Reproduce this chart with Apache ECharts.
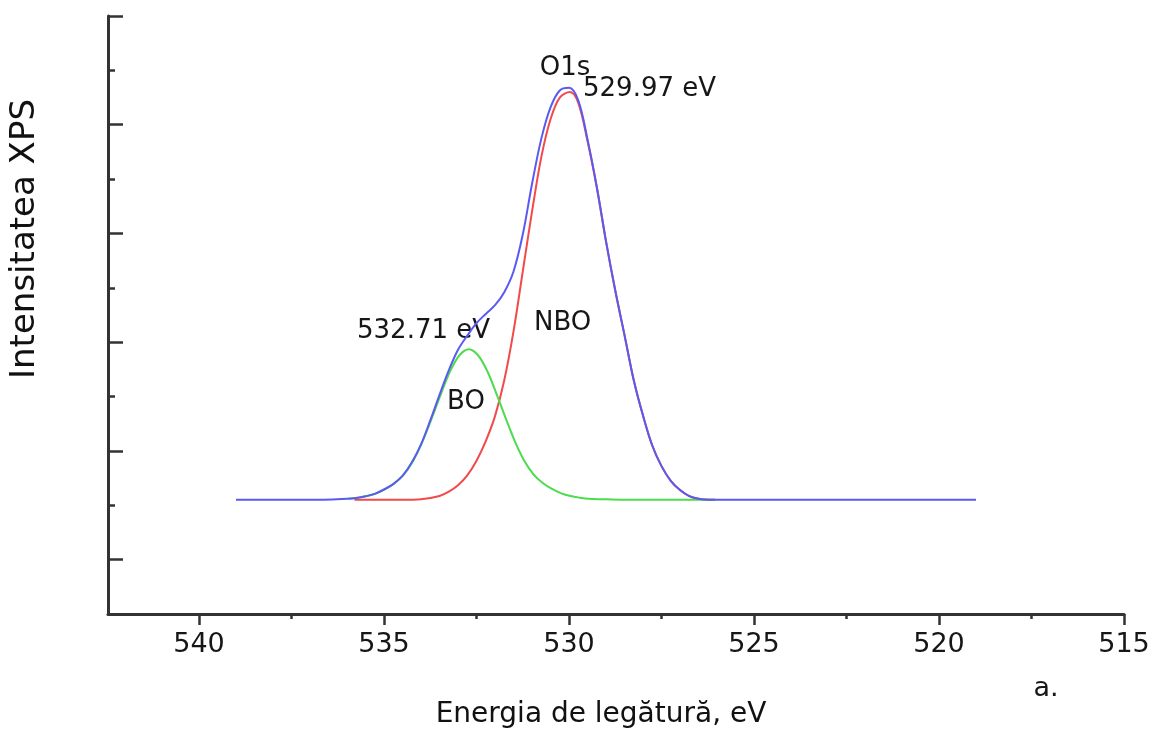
<!DOCTYPE html>
<html>
<head>
<meta charset="utf-8">
<script src="https://cdn.jsdelivr.net/npm/echarts@6/dist/echarts.min.js"></script>
<style>
html,body{margin:0;padding:0;background:#fff;}
#chart{width:1157px;height:734px;}
</style>
</head>
<body>
<div id="chart"></div>
<script>
// ---- data ----
const xTickValues = [515, 520, 525, 530, 535, 540];
const xMinorTicks = [517.5, 522.5, 527.5, 532.5, 537.5];
const yMajorTicks = [1, 3, 5, 7, 9, 11];
const yMinorTicks = [2, 4, 6, 8, 10];

// total envelope (blue)
const blueE = [539.0, 537.0, 536.0, 535.75, 535.5, 535.25, 535.0, 534.75, 534.5, 534.25, 534.0, 533.75, 533.5, 533.25, 533.0, 532.75, 532.5, 532.25, 532.0, 531.75, 531.5, 531.25, 531.0, 530.75, 530.5, 530.25, 530.0, 529.75, 529.5, 529.25, 529.0, 528.75, 528.5, 528.25, 528.0, 527.75, 527.5, 527.25, 527.0, 526.75, 526.5, 526.25, 525.5, 519.0];
const blueI = [2.1, 2.1, 2.12, 2.135, 2.165, 2.21, 2.29, 2.39, 2.54, 2.785, 3.12, 3.56, 4.03, 4.48, 4.86, 5.12, 5.35, 5.52, 5.68, 5.92, 6.3, 6.98, 7.91, 8.74, 9.32, 9.63, 9.68, 9.45, 8.73, 7.86, 6.86, 5.95, 5.13, 4.3, 3.65, 3.1, 2.72, 2.45, 2.28, 2.17, 2.12, 2.1, 2.1, 2.1];

// NBO component (red)
const redE = [535.8, 535.0, 534.5, 534.0, 533.5, 533.25, 533.0, 532.75, 532.5, 532.25, 532.0, 531.75, 531.5, 531.25, 531.0, 530.75, 530.5, 530.25, 529.97, 529.75, 529.5, 529.25, 529.0, 528.75, 528.5, 528.25, 528.0, 527.75, 527.5, 527.25, 527.0, 526.75, 526.5, 526.05];
const redI = [2.1, 2.1, 2.1, 2.11, 2.17, 2.25, 2.37, 2.55, 2.82, 3.18, 3.64, 4.3, 5.2, 6.3, 7.4, 8.4, 9.1, 9.5, 9.6, 9.4, 8.7, 7.85, 6.85, 5.95, 5.13, 4.3, 3.65, 3.1, 2.72, 2.45, 2.28, 2.17, 2.12, 2.1];

// BO component (green)
const greenE = [535.96, 535.71, 535.46, 535.21, 534.96, 534.71, 534.46, 534.21, 533.96, 533.71, 533.46, 533.21, 532.96, 532.71, 532.46, 532.21, 531.96, 531.71, 531.46, 531.21, 530.96, 530.71, 530.46, 530.21, 529.96, 529.71, 529.46, 529.0, 528.0, 527.0, 526.05];
const greenI = [2.12, 2.14, 2.17, 2.22, 2.30, 2.41, 2.57, 2.82, 3.17, 3.60, 4.05, 4.47, 4.76, 4.87, 4.76, 4.47, 4.05, 3.60, 3.17, 2.82, 2.57, 2.41, 2.30, 2.22, 2.17, 2.14, 2.12, 2.11, 2.1, 2.1, 2.1];

const xTitle = 'Energia de legătură, eV';
const yTitle = 'Intensitatea XPS';

// ---- chart ----
const zip = (a, b) => a.map((v, i) => [v, b[i]]);
const FONT = '"DejaVu Sans", "Liberation Sans", Arial, sans-serif';
const AX = '#333';
const TXT = '#161616';

const chart = echarts.init(document.getElementById('chart'), null, {renderer: 'canvas'});

const xCommon = {type: 'value', min: 515, max: 542.46, inverse: true, position: 'bottom', splitLine: {show: false}};
const yCommon = {type: 'value', min: 0, max: 11, position: 'left', splitLine: {show: false}};

const option = {
  backgroundColor: '#fff',
  animation: false,
  grid: {left: 108, right: 33, top: 16, bottom: 120, containLabel: false, outerBoundsMode: 'none'},
  xAxis: [
    Object.assign({}, xCommon, {
      axisLine: {show: true, onZero: false, lineStyle: {color: AX, width: 3}},
      axisTick: {show: true, customValues: xTickValues, length: 11, lineStyle: {color: AX, width: 2.5}},
      axisLabel: {show: true, customValues: xTickValues, fontFamily: FONT, fontSize: 27, color: TXT, margin: 17},
      name: xTitle, nameLocation: 'middle', nameGap: 87,
      nameTextStyle: {fontFamily: FONT, fontSize: 28, color: '#111', padding: [0, 30, 0, 0]}
    }),
    Object.assign({}, xCommon, {
      axisLine: {show: false, onZero: false},
      axisTick: {show: true, customValues: xMinorTicks, length: 5, lineStyle: {color: AX, width: 2.5}},
      axisLabel: {show: false}
    })
  ],
  yAxis: [
    Object.assign({}, yCommon, {
      axisLine: {show: true, onZero: false, lineStyle: {color: AX, width: 3}},
      axisTick: {show: true, inside: true, customValues: yMajorTicks, length: 15, lineStyle: {color: AX, width: 2.5}},
      axisLabel: {show: false}
    }),
    Object.assign({}, yCommon, {
      axisLine: {show: false, onZero: false},
      axisTick: {show: true, inside: true, customValues: yMinorTicks, length: 7, lineStyle: {color: AX, width: 2.5}},
      axisLabel: {show: false}
    })
  ],
  series: [
    {name: 'NBO', type: 'line', xAxisIndex: 0, yAxisIndex: 0, data: zip(redE, redI), showSymbol: false, smooth: 0.35, z: 2,
     lineStyle: {color: '#f24a4a', width: 2}},
    {name: 'BO', type: 'line', xAxisIndex: 0, yAxisIndex: 0, data: zip(greenE, greenI), showSymbol: false, smooth: 0.35, z: 3,
     lineStyle: {color: '#4cdc4c', width: 2}},
    {name: 'O1s', type: 'line', xAxisIndex: 0, yAxisIndex: 0, data: zip(blueE, blueI), showSymbol: false, smooth: 0.35, z: 4,
     lineStyle: {color: '#5a5af2', width: 2}}
  ],
  graphic: [
    {type: 'text', x: 565, y: 68, style: {text: 'O1s', font: '26px ' + FONT, fill: TXT, align: 'center', verticalAlign: 'middle'}},
    {type: 'text', x: 583, y: 89, style: {text: '529.97 eV', font: '26px ' + FONT, fill: TXT, align: 'left', verticalAlign: 'middle'}},
    {type: 'text', x: 357, y: 331, style: {text: '532.71 eV', font: '26px ' + FONT, fill: TXT, align: 'left', verticalAlign: 'middle'}},
    {type: 'text', x: 534, y: 323, style: {text: 'NBO', font: '26px ' + FONT, fill: TXT, align: 'left', verticalAlign: 'middle'}},
    {type: 'text', x: 466, y: 402, style: {text: 'BO', font: '26px ' + FONT, fill: TXT, align: 'center', verticalAlign: 'middle'}},
    {type: 'text', x: 1046, y: 689, style: {text: 'a.', font: '27px ' + FONT, fill: TXT, align: 'center', verticalAlign: 'middle'}},
    {type: 'text', x: 25, y: 239, rotation: Math.PI / 2, style: {text: yTitle, font: '34px ' + FONT, fill: '#111', align: 'center', verticalAlign: 'middle'}}
  ]
};
chart.setOption(option);
</script>
</body>
</html>
